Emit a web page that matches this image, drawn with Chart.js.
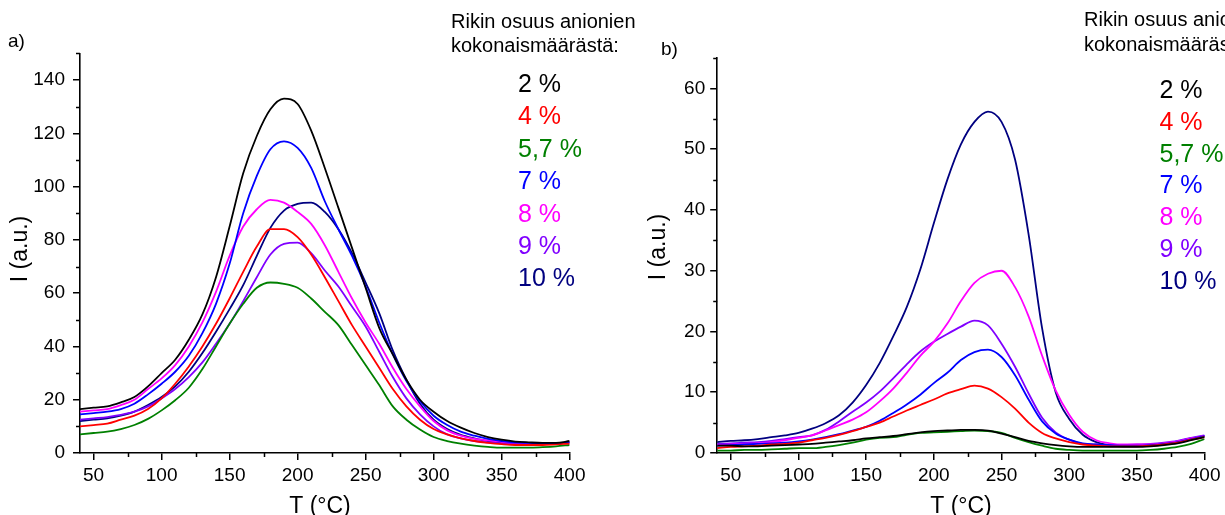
<!DOCTYPE html>
<html>
<head>
<meta charset="utf-8">
<script src="https://cdn.jsdelivr.net/npm/chart.js@4.4.0/dist/chart.umd.min.js"></script>
<style>
  body { margin: 0; background: #fff; }
  #wrap { position: relative; width: 1225px; height: 515px; overflow: hidden; }
  canvas { position: absolute; top: 0; }
</style>
</head>
<body>
<div id="wrap">
  <canvas id="chartA" width="640" height="515" style="left:0"></canvas>
  <canvas id="chartB" width="585" height="515" style="left:640px"></canvas>
</div>
<script>
// Temperatures (°C), one reading every 10 degrees
const temps = [40, 50, 60, 70, 80, 90, 100, 110, 120, 130, 140, 150, 160, 170, 180, 190, 200, 210, 220,
               230, 240, 250, 260, 270, 280, 290, 300, 310, 320, 330, 340, 350, 360, 370, 380, 390, 400];

const seriesLabels = ['2 %', '4 %', '5,7 %', '7 %', '8 %', '9 %', '10 %'];
const seriesColors = ['#000000', '#ff0000', '#008000', '#0000ff', '#ff00ff', '#8000ff', '#000080'];

// panel a)
const a2  = [16.5, 17, 17.5, 19, 21, 25, 30, 35, 42.5, 52, 66, 85, 105, 119, 129, 133, 131, 121, 107,
             92, 77, 62, 47, 37, 27.5, 20, 15.5, 12, 9.5, 7.5, 6, 5, 4.3, 4, 3.8, 3.8, 4.5];
const a4  = [10, 10.5, 11, 12.5, 14, 16.5, 20.5, 26, 32.5, 40, 48.5, 58, 68, 77.5, 84, 84, 81, 74.5, 66,
             57, 48, 40, 32, 24, 17.5, 12.5, 9, 7, 5.5, 4.5, 3.8, 3.3, 3, 3, 3, 3.2, 3.5];
const a57 = [7, 7.5, 8, 9, 10.5, 12.8, 16, 19.8, 24.5, 31.5, 40, 48.5, 56, 62, 64, 63.5, 62, 58, 53,
             48, 40.5, 33, 25.5, 17.5, 12.5, 8.8, 6, 4.5, 3.5, 2.8, 2.3, 2, 2, 2, 2.2, 2.5, 3];
const a7  = [14.5, 15, 15.5, 16.5, 18.5, 22, 26, 30.5, 36.5, 45, 56, 71, 90, 104, 114, 117, 114.5, 107, 94.5,
             84, 74, 62.5, 49, 37, 27, 19.5, 14, 10.5, 8, 6.5, 5.3, 4.5, 4, 3.8, 3.6, 3.6, 4];
const a8  = [15.5, 16, 16.5, 18, 20, 24, 28, 33, 40, 49, 60.5, 74, 85, 91.5, 95, 94, 90.5, 86, 78,
             68, 58, 49, 41, 32, 24, 17.5, 12, 8.5, 6.5, 5.3, 4.7, 4.2, 3.9, 3.7, 3.5, 3.5, 4];
const a9  = [12.5, 13, 13.5, 14.3, 15.5, 17.5, 20.5, 24, 28.5, 34, 41, 48.5, 57, 66, 74.5, 78.5, 79, 75, 68.5,
             62.5, 55, 47.5, 38, 28.5, 20.5, 14.5, 10, 7, 5.5, 4.5, 4, 3.6, 3.3, 3.3, 3.3, 3.5, 4];
const a10 = [12, 12.5, 13, 14, 15.5, 18, 21, 25, 30.5, 37.5, 45.5, 54, 63, 74, 84.5, 91, 93.5, 94, 90.5,
             84, 75, 64, 52.5, 38.5, 27.5, 18.5, 12.5, 9, 6.8, 5.5, 4.5, 4, 3.6, 3.4, 3.3, 3.5, 4];

// panel b)
const b2  = [1.2, 1.2, 1.1, 1.1, 1.2, 1.3, 1.4, 1.5, 1.7, 1.9, 2.1, 2.4, 2.6, 2.8, 3.1, 3.4, 3.6, 3.7, 3.8,
             3.8, 3.7, 3.2, 2.6, 2, 1.6, 1.3, 1.1, 1, 1, 1, 1, 1, 1.1, 1.3, 1.6, 2.1, 2.6];
const b4  = [0.8, 1, 1.1, 1.2, 1.4, 1.5, 1.7, 2.1, 2.5, 3, 3.6, 4.3, 5, 6, 7, 7.9, 8.8, 9.8, 10.5,
             11.1, 10.6, 9.2, 7.3, 5, 3.3, 2.4, 1.8, 1.4, 1.2, 1.1, 1.1, 1.1, 1.2, 1.4, 1.7, 2.2, 2.6];
const b57 = [0.4, 0.4, 0.5, 0.5, 0.6, 0.7, 0.8, 0.8, 1, 1.3, 1.7, 2.2, 2.5, 2.6, 3, 3.3, 3.4, 3.5, 3.6,
             3.7, 3.6, 3.3, 2.5, 1.8, 1.2, 0.7, 0.5, 0.4, 0.4, 0.4, 0.4, 0.4, 0.5, 0.7, 1, 1.5, 2.3];
const b7  = [1.2, 1.3, 1.4, 1.5, 1.6, 1.7, 1.9, 2.2, 2.6, 3.1, 3.7, 4.3, 5.3, 6.6, 8, 9.6, 11.5, 13.2, 15.3,
             16.6, 17, 15.8, 12.8, 8.8, 5.2, 3.2, 2.2, 1.6, 1.4, 1.3, 1.2, 1.2, 1.3, 1.5, 1.8, 2.3, 2.8];
const b8  = [1.3, 1.4, 1.5, 1.6, 1.8, 2.1, 2.5, 2.9, 3.7, 4.6, 5.5, 6.7, 8.5, 10.6, 13.2, 16, 18.3, 21.3, 25,
             28, 29.5, 30, 27.3, 22.5, 16, 10.3, 6.3, 3.5, 2.1, 1.6, 1.4, 1.4, 1.4, 1.6, 1.9, 2.4, 2.8];
const b9  = [1.5, 1.6, 1.7, 1.8, 2, 2.3, 2.6, 2.9, 3.8, 5.2, 6.8, 8.3, 10.1, 12.3, 14.6, 16.7, 18.3, 19.6, 20.8,
             21.8, 21, 18, 14.2, 9.8, 5.8, 3.4, 2.2, 1.5, 1.4, 1.3, 1.3, 1.4, 1.5, 1.7, 2, 2.5, 2.9];
const b10 = [1.8, 2, 2.1, 2.3, 2.6, 2.9, 3.3, 4, 4.9, 6.2, 8.3, 11.2, 14.8, 19.2, 24, 30.2, 37.8, 45, 50.8,
             54.5, 56.2, 54.5, 48.3, 36, 20.5, 10, 5.6, 3, 1.8, 1.3, 1.1, 1.1, 1.3, 1.5, 1.9, 2.4, 2.8];

// tick labels
const xTicks  = [50, 100, 150, 200, 250, 300, 350, 400];
const yTicksA = [0, 20, 40, 60, 80, 100, 120, 140];
const yTicksB = [0, 10, 20, 30, 40, 50, 60];

const FONT = '"Liberation Sans", Arial, sans-serif';

function makeDatasets(list) {
    return list.map((vals, i) => ({
        label: seriesLabels[i],
        data: temps.map((t, j) => ({ x: t, y: vals[j] })),
        borderColor: seriesColors[i],
        borderWidth: 1.8,
        pointRadius: 0,
        cubicInterpolationMode: 'monotone',
        fill: false
    }));
}

function axis(min, max, tickList, pad, fit) {
    return {
        type: 'linear',
        min: min,
        max: max,
        afterBuildTicks: s => { s.ticks = tickList.map(v => ({ value: v })); },
        afterFit: fit,
        grid: { drawOnChartArea: false, drawTicks: true, tickLength: 7, color: '#000', lineWidth: 1.5 },
        border: { display: true, color: '#000', width: 1.6 },
        ticks: { color: '#000', font: { family: FONT, size: 19 }, padding: pad, maxRotation: 0, autoSkip: false }
    };
}

// small ticks half way between the labelled ones
function minorTicks(xStep, yStep) {
    return {
        id: 'minorTicks',
        afterDraw(chart) {
            const { ctx, scales: { x, y } } = chart;
            ctx.save();
            ctx.strokeStyle = '#000';
            ctx.lineWidth = 1.5;
            ctx.beginPath();
            for (let v = Math.ceil(x.min / xStep) * xStep; v <= x.max; v += xStep) {
                if (Math.round(v / xStep) % 2 !== 1) continue;
                const px = Math.round(x.getPixelForValue(v)) + 0.5;
                ctx.moveTo(px, x.top);
                ctx.lineTo(px, x.top + 4);
            }
            for (let v = Math.ceil(y.min / yStep) * yStep; v <= y.max; v += yStep) {
                if (Math.round(v / yStep) % 2 !== 1) continue;
                const py = Math.round(y.getPixelForValue(v)) + 0.5;
                ctx.moveTo(y.right - 4, py);
                ctx.lineTo(y.right, py);
            }
            ctx.stroke();
            ctx.restore();
        }
    };
}

function textLayer(items) {
    return {
        id: 'textLayer',
        afterDraw(chart) {
            const ctx = chart.ctx;
            items.forEach(it => {
                ctx.save();
                ctx.font = it.size + 'px ' + FONT;
                ctx.fillStyle = it.color || '#000';
                ctx.textAlign = it.align || 'left';
                ctx.textBaseline = 'middle';
                ctx.translate(it.x, it.y);
                if (it.rotate) ctx.rotate(it.rotate);
                ctx.fillText(it.text, 0, 0);
                ctx.restore();
            });
        }
    };
}

function legendItems(x, ys) {
    return seriesLabels.map((l, i) => ({ text: l, x: x, y: ys[i], size: 25, color: seriesColors[i] }));
}

function makeChart(id, datasets, yMax, yTicks, yStep, layout, texts) {
    return new Chart(document.getElementById(id), {
        type: 'line',
        data: { datasets: datasets },
        options: {
            responsive: false,
            animation: false,
            layout: { padding: layout.padding },
            plugins: { legend: { display: false }, tooltip: { enabled: false } },
            scales: {
                x: axis(40, 400, xTicks, 4.5, s => { s.height = 62; }),
                y: axis(0, yMax, yTicks, layout.yPad, s => { s.width = layout.yWidth; })
            }
        },
        plugins: [minorTicks(25, yStep), textLayer(texts)]
    });
}

const textsA = [
    { text: 'a)', x: 8, y: 42, size: 19 },
    { text: 'Rikin osuus anionien', x: 451, y: 22, size: 20 },
    { text: 'kokonaismäärästä:', x: 451, y: 46, size: 20 },
    { text: 'I (a.u.)', x: 21, y: 249, size: 23, align: 'center', rotate: -Math.PI / 2 },
    { text: 'T (°C)', x: 320, y: 507, size: 23, align: 'center' }
].concat(legendItems(518, [85, 117, 150, 182, 215, 247, 279]));

const textsB = [
    { text: 'b)', x: 21, y: 50, size: 19 },
    { text: 'Rikin osuus anionien', x: 444, y: 20, size: 20 },
    { text: 'kokonaismäärästä:', x: 444, y: 45, size: 20 },
    { text: 'I (a.u.)', x: 19, y: 247, size: 23, align: 'center', rotate: -Math.PI / 2 },
    { text: 'T (°C)', x: 321, y: 507, size: 23, align: 'center' }
].concat(legendItems(519.5, [91, 123, 155, 186, 218, 250, 282]));

makeChart('chartA', makeDatasets([a2, a4, a57, a7, a8, a9, a10]), 150, yTicksA, 10,
    { padding: { left: 0, top: 53.4, right: 70.4, bottom: 0 }, yWidth: 80, yPad: 8 }, textsA);

makeChart('chartB', makeDatasets([b2, b4, b57, b7, b8, b9, b10]), 65, yTicksB, 5,
    { padding: { left: 0, top: 58.1, right: 20.4, bottom: 0 }, yWidth: 77.2, yPad: 5 }, textsB);
</script>
</body>
</html>
